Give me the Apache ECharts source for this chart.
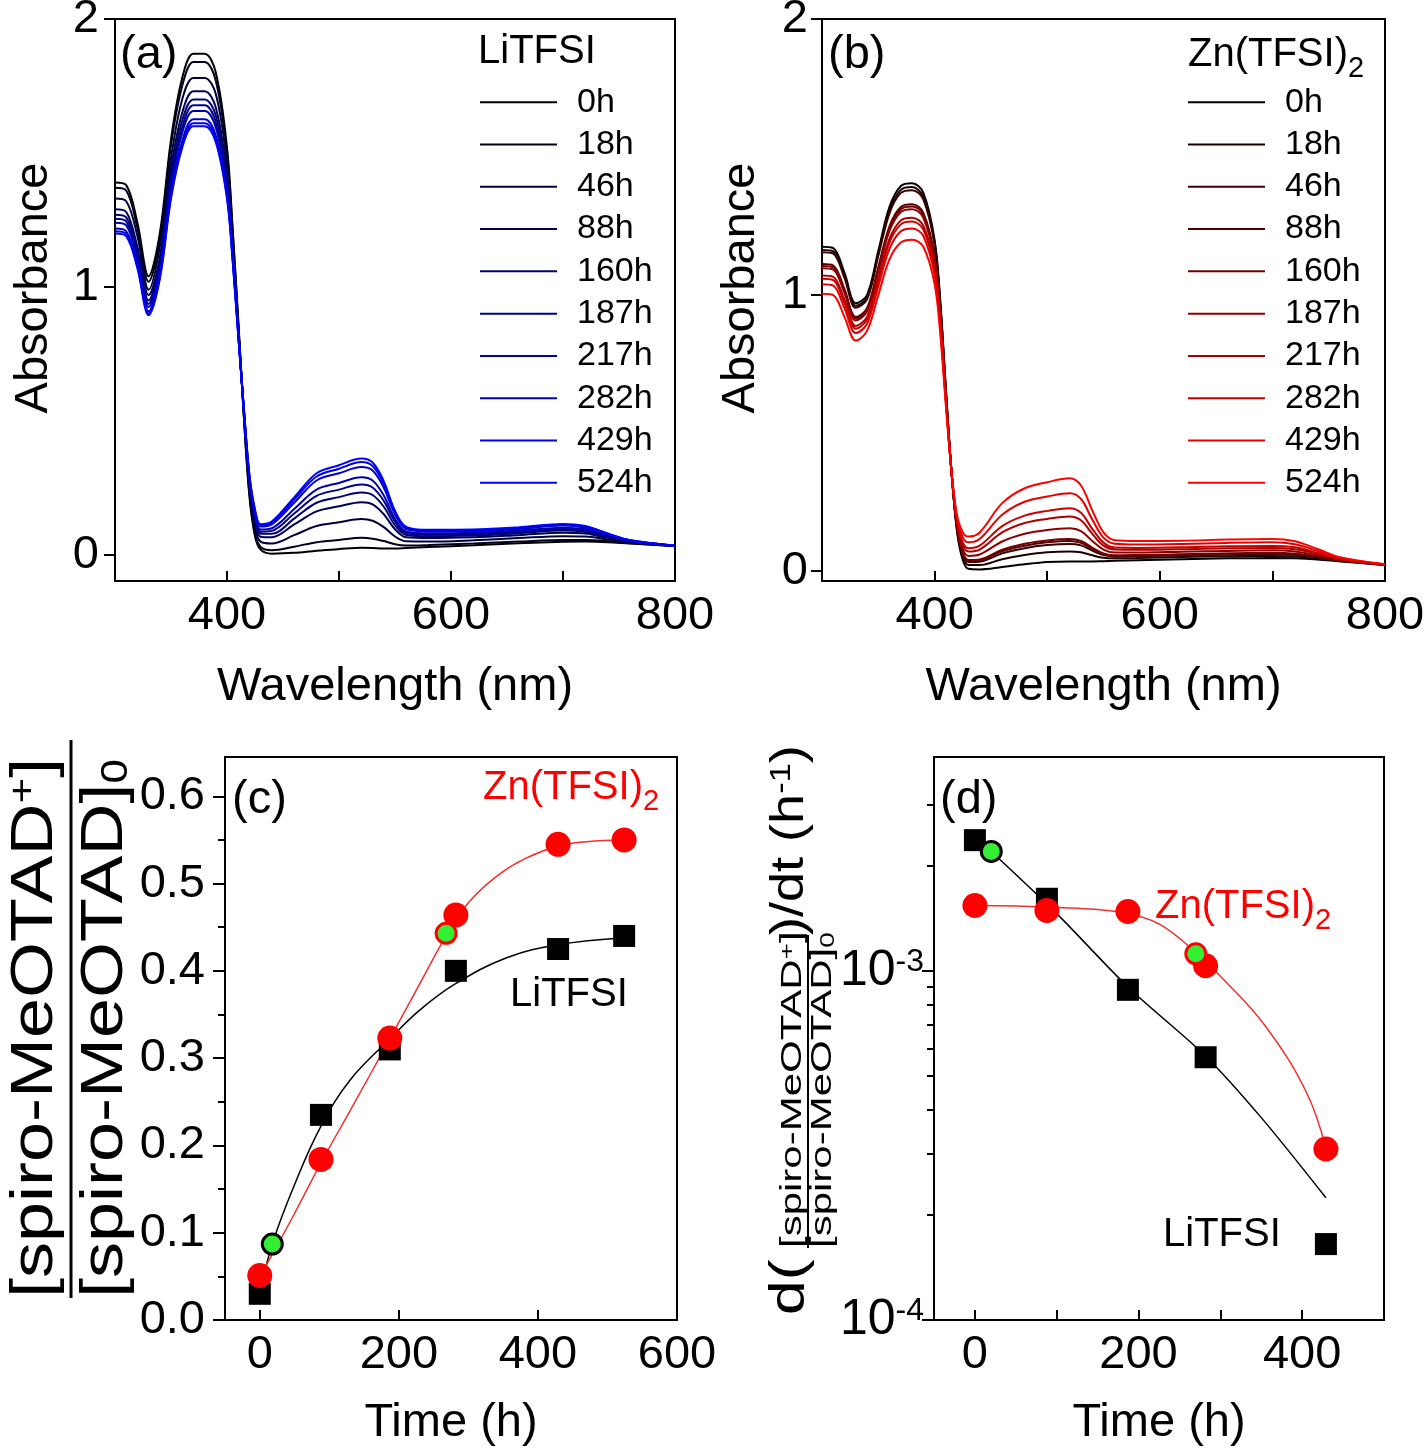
<!DOCTYPE html>
<html>
<head>
<meta charset="utf-8">
<script src="https://cdn.jsdelivr.net/npm/echarts@6/dist/echarts.min.js"></script>
<style>
html,body{margin:0;padding:0;background:#fff;}
#main{width:1425px;height:1449px;}
</style>
</head>
<body>
<div id="main"></div>
<script>
var FONT = '"Liberation Sans", Arial, sans-serif';

// 波长 (nm)
var wavelength = [300,310,320,330,340,350,360,370,380,390,400,405,410,415,420,425,430,440,460,480,500,520,530,540,550,560,580,620,660,700,720,740,760,800];
var timeLabels = ['0h','18h','46h','88h','160h','187h','217h','282h','429h','524h'];

// (a) LiTFSI 吸收谱
var li0h   = [1.39,1.38,1.24,1.04,1.20,1.55,1.78,1.87,1.87,1.80,1.52,1.22,0.88,0.52,0.22,0.07,0.02,0.005,0.008,0.016,0.022,0.027,0.026,0.024,0.024,0.026,0.030,0.036,0.044,0.049,0.050,0.048,0.043,0.034];
var li18h  = [1.37,1.36,1.22,1.02,1.18,1.53,1.75,1.84,1.84,1.77,1.50,1.21,0.87,0.52,0.23,0.08,0.03,0.018,0.031,0.048,0.056,0.064,0.061,0.052,0.040,0.035,0.037,0.043,0.050,0.056,0.056,0.052,0.044,0.034];
var li46h  = [1.33,1.32,1.19,0.99,1.15,1.48,1.70,1.78,1.78,1.72,1.46,1.18,0.86,0.53,0.25,0.10,0.05,0.043,0.074,0.108,0.122,0.134,0.128,0.104,0.069,0.051,0.050,0.055,0.063,0.070,0.069,0.058,0.047,0.034];
var li88h  = [1.29,1.28,1.15,0.97,1.11,1.44,1.65,1.73,1.73,1.67,1.42,1.16,0.85,0.535,0.26,0.12,0.068,0.066,0.114,0.163,0.182,0.197,0.189,0.152,0.096,0.066,0.063,0.066,0.074,0.083,0.080,0.064,0.049,0.034];
var li160h = [1.27,1.26,1.135,0.95,1.095,1.41,1.62,1.70,1.70,1.64,1.40,1.15,0.84,0.54,0.27,0.13,0.079,0.079,0.136,0.195,0.216,0.233,0.224,0.180,0.111,0.075,0.070,0.073,0.081,0.091,0.086,0.068,0.050,0.034];
var li187h = [1.255,1.245,1.12,0.937,1.08,1.394,1.595,1.678,1.678,1.615,1.385,1.135,0.837,0.541,0.277,0.141,0.087,0.090,0.155,0.221,0.244,0.263,0.252,0.202,0.124,0.082,0.075,0.078,0.086,0.097,0.091,0.071,0.052,0.034];
var li217h = [1.24,1.23,1.106,0.925,1.066,1.376,1.575,1.657,1.657,1.595,1.37,1.125,0.833,0.544,0.283,0.149,0.095,0.100,0.172,0.244,0.269,0.290,0.278,0.222,0.135,0.088,0.081,0.083,0.091,0.102,0.096,0.073,0.052,0.034];
var li282h = [1.218,1.208,1.086,0.909,1.046,1.351,1.545,1.626,1.626,1.565,1.348,1.111,0.826,0.547,0.292,0.160,0.106,0.114,0.195,0.278,0.305,0.328,0.315,0.251,0.152,0.097,0.088,0.089,0.097,0.110,0.102,0.077,0.054,0.035];
var li429h = [1.208,1.198,1.077,0.901,1.037,1.339,1.53,1.611,1.611,1.55,1.338,1.105,0.822,0.549,0.297,0.166,0.111,0.120,0.207,0.293,0.322,0.347,0.332,0.265,0.159,0.102,0.091,0.093,0.101,0.113,0.106,0.079,0.055,0.035];
var li524h = [1.20,1.19,1.07,0.895,1.03,1.33,1.52,1.60,1.60,1.54,1.33,1.10,0.82,0.55,0.30,0.17,0.115,0.125,0.215,0.305,0.335,0.36,0.345,0.275,0.165,0.105,0.094,0.095,0.103,0.116,0.108,0.080,0.055,0.035];

// (b) Zn(TFSI)2 吸收谱
var zn0h   = [1.175,1.17,1.08,0.97,1.0,1.16,1.32,1.395,1.405,1.37,1.20,0.98,0.66,0.36,0.14,0.04,0.008,0.006,0.015,0.025,0.033,0.035,0.035,0.035,0.036,0.037,0.039,0.043,0.046,0.047,0.046,0.042,0.035,0.022];
var zn18h  = [1.163,1.158,1.069,0.961,0.991,1.149,1.307,1.381,1.391,1.356,1.189,0.972,0.656,0.36,0.147,0.052,0.022,0.022,0.043,0.058,0.068,0.071,0.068,0.057,0.048,0.046,0.047,0.051,0.054,0.055,0.053,0.047,0.037,0.022];
var zn46h  = [1.155,1.15,1.061,0.954,0.984,1.141,1.297,1.37,1.38,1.347,1.181,0.966,0.653,0.36,0.153,0.061,0.033,0.034,0.064,0.083,0.094,0.098,0.093,0.074,0.058,0.053,0.054,0.057,0.060,0.061,0.059,0.050,0.038,0.023];
var zn88h  = [1.112,1.107,1.021,0.92,0.952,1.101,1.25,1.319,1.329,1.298,1.141,0.936,0.638,0.36,0.155,0.065,0.037,0.039,0.072,0.092,0.104,0.109,0.102,0.080,0.061,0.055,0.056,0.059,0.063,0.064,0.061,0.051,0.039,0.023];
var zn160h = [1.105,1.10,1.014,0.915,0.947,1.094,1.242,1.311,1.321,1.29,1.134,0.931,0.635,0.36,0.156,0.067,0.040,0.042,0.077,0.099,0.111,0.116,0.109,0.085,0.064,0.057,0.058,0.061,0.064,0.066,0.063,0.052,0.039,0.023];
var zn187h = [1.097,1.092,1.006,0.908,0.94,1.086,1.233,1.301,1.311,1.28,1.126,0.925,0.632,0.36,0.164,0.080,0.055,0.060,0.107,0.135,0.149,0.155,0.145,0.109,0.078,0.067,0.067,0.070,0.073,0.075,0.071,0.057,0.041,0.023];
var zn217h = [1.071,1.066,0.982,0.888,0.921,1.062,1.204,1.27,1.28,1.251,1.102,0.907,0.623,0.36,0.172,0.094,0.071,0.078,0.140,0.174,0.189,0.198,0.184,0.135,0.092,0.078,0.077,0.079,0.083,0.084,0.079,0.063,0.043,0.024];
var zn282h = [1.059,1.054,0.971,0.878,0.912,1.051,1.191,1.256,1.266,1.237,1.091,0.898,0.619,0.36,0.178,0.104,0.083,0.092,0.163,0.201,0.218,0.228,0.211,0.153,0.103,0.085,0.084,0.086,0.090,0.091,0.086,0.066,0.045,0.024];
var zn429h = [1.039,1.034,0.952,0.862,0.896,1.032,1.168,1.231,1.241,1.214,1.072,0.884,0.612,0.36,0.189,0.122,0.104,0.116,0.204,0.251,0.270,0.282,0.261,0.187,0.121,0.099,0.096,0.098,0.102,0.104,0.097,0.073,0.047,0.024];
var zn524h = [1.005,1.0,0.92,0.835,0.87,1.0,1.13,1.19,1.20,1.175,1.04,0.86,0.60,0.36,0.20,0.14,0.125,0.14,0.246,0.30,0.322,0.336,0.31,0.22,0.14,0.112,0.109,0.11,0.114,0.116,0.108,0.08,0.05,0.025];

var blueShades = ['#000000','#00001c','#000039','#000055','#000071','#00008e','#0000aa','#0000c6','#0000e3','#0000ff'];
var redShades  = ['#000000','#1c0000','#390000','#550000','#710000','#8e0000','#aa0000','#c60000','#e30000','#ff0000'];

// (c) 氧化比例
var timeC = [0, 88, 187, 282, 429, 524];
var ratioLi = [0.03, 0.235, 0.31, 0.40, 0.425, 0.44];
var ratioZn = [0.051, 0.184, 0.323, 0.464, 0.545, 0.55];
var refLiC = [18, 0.087];
var refZnC = [268, 0.443];
var fitTimeLiC = [0, 18, 50, 88, 130, 187, 230, 281, 355, 429, 524];
var fitLiC     = [0.03, 0.087, 0.155, 0.222, 0.275, 0.322, 0.355, 0.385, 0.415, 0.43, 0.438];
var fitTimeZnC = [0, 20, 50, 88, 130, 187, 230, 268, 300, 340, 380, 429, 470, 524];
var fitZnC     = [0.05, 0.078, 0.122, 0.18, 0.24, 0.322, 0.385, 0.44, 0.478, 0.508, 0.528, 0.543, 0.548, 0.55];

// (d) 速率 (h^-1)
var timeD = [0, 88, 187, 282, 429];
var rateLi = [2.37e-3, 1.61e-3, 8.83e-4, 5.66e-4, 1.65e-4];
var rateZn = [1.54e-3, 1.49e-3, 1.48e-3, 1.035e-3, 3.09e-4];
var refLiD = [20, 2.2e-3];
var refZnD = [270, 1.12e-3];
var fitTimeLiD = [20, 100, 187, 282, 350, 429];
var fitLiD     = [2.2e-3, 1.46e-3, 9.0e-4, 5.7e-4, 3.8e-4, 2.24e-4];
var fitTimeZnD = [0, 50, 100, 150, 187, 226, 268, 303, 354, 405, 429];
var fitZnD     = [1.54e-3, 1.535e-3, 1.52e-3, 1.5e-3, 1.46e-3, 1.36e-3, 1.14e-3, 9.5e-4, 7.0e-4, 4.5e-4, 3.1e-4];

var spectraLi = [li0h, li18h, li46h, li88h, li160h, li187h, li217h, li282h, li429h, li524h];
var spectraZn = [zn0h, zn18h, zn46h, zn88h, zn160h, zn187h, zn217h, zn282h, zn429h, zn524h];

function pairs(xs, ys){
	var out = [];
	for (var i = 0; i < xs.length; i++) out.push([xs[i], ys[i]]);
	return out;
}
function logPairs(xs, ys){
	var out = [];
	for (var i = 0; i < xs.length; i++) out.push([xs[i], Math.log10(ys[i])]);
	return out;
}

var series = [];
function addSpectra(prefix, list, colors, idx){
	for (var i = 0; i < list.length; i++) {
		series.push({
			name: prefix + timeLabels[i], type: 'line', xAxisIndex: idx, yAxisIndex: idx,
			data: pairs(wavelength, list[i]), symbol: 'none', smooth: 0.35,
			color: colors[i], lineStyle: {width: 2, color: colors[i]}, z: 2
		});
	}
}
addSpectra('a', spectraLi, blueShades, 0);
addSpectra('b', spectraZn, redShades, 1);

function dots(xi, yi, data, shape, size, color, border){
	var st = {color: color, opacity: 1};
	if (border) { st.borderColor = border; st.borderWidth = 3; }
	return {type:'scatter', xAxisIndex:xi, yAxisIndex:yi, data:data, symbol:shape, symbolSize:size, itemStyle:st, z: border ? 5 : 4};
}

// (c)
series.push({type:'line', xAxisIndex:2, yAxisIndex:2, data: pairs(fitTimeLiC, fitLiC), symbol:'none', smooth:0.4, lineStyle:{width:1.5, color:'#000'}, z:3});
series.push({type:'line', xAxisIndex:2, yAxisIndex:2, data: pairs(fitTimeZnC, fitZnC), symbol:'none', smooth:0.4, lineStyle:{width:1.5, color:'#f03030'}, z:3});
series.push(dots(2, 2, pairs(timeC, ratioLi), 'rect', 22, '#000'));
series.push(dots(2, 2, pairs(timeC, ratioZn), 'circle', 25, '#ff0000'));
series.push(dots(2, 2, [refLiC], 'circle', 20, '#33ee33', '#000'));
series.push(dots(2, 2, [refZnC], 'circle', 20, '#33ee33', '#ff0000'));

// (d)
series.push({type:'line', xAxisIndex:3, yAxisIndex:4, data: logPairs(fitTimeLiD, fitLiD), symbol:'none', smooth:0.3, lineStyle:{width:1.5, color:'#000'}, z:3});
series.push({type:'line', xAxisIndex:3, yAxisIndex:4, data: logPairs(fitTimeZnD, fitZnD), symbol:'none', smooth:0.4, lineStyle:{width:1.5, color:'#f03030'}, z:3});
series.push(dots(3, 4, logPairs(timeD, rateLi), 'rect', 22, '#000'));
series.push(dots(3, 4, logPairs(timeD, rateZn), 'circle', 25, '#ff0000'));
series.push(dots(3, 4, logPairs([refLiD[0]], [refLiD[1]]), 'circle', 20, '#33ee33', '#000'));
series.push(dots(3, 4, logPairs([refZnD[0]], [refZnD[1]]), 'circle', 20, '#33ee33', '#ff0000'));

var black = '#000';
function lineSt(){ return {show:true, onZero:false, lineStyle:{color:black, width:2}}; }
function tickSt(vals, len, inside){ return {show:true, inside:!!inside, length:len, customValues:vals, lineStyle:{color:black, width:2}}; }
function labelSt(vals, margin, fmt){
	var o = {show:true, customValues:vals, margin:margin, color:black, fontSize:47, fontFamily:FONT};
	if (fmt) o.formatter = fmt;
	return o;
}
var nameSt = {fontSize:47, fontFamily:FONT, color:black};
var nameStY = {fontSize:47, fontFamily:FONT, color:black, padding:[0,0,0,24]};

var gridBase = {show:true, borderColor:black, borderWidth:2, backgroundColor:'transparent', containLabel:false, outerBoundsMode:'none'};
function grid(l, t, w, h){
	var g = {}; for (var k in gridBase) g[k] = gridBase[k];
	g.left = l; g.top = t; g.width = w; g.height = h; return g;
}

var minorD = [2e-4,3e-4,4e-4,5e-4,6e-4,7e-4,8e-4,9e-4,2e-3,3e-3].map(function(v){return Math.log10(v);});

var legendBase = function(prefix, left){
	return {
		data: timeLabels.map(function(t){return prefix + t;}),
		left: left, top: 81, padding: 0, orient: 'vertical', icon: 'rect',
		itemWidth: 77, itemHeight: 2, itemGap: 0, selectedMode: false,
		formatter: function(n){ return n.slice(1); },
		textStyle: {fontSize: 34, lineHeight: 42.3, fontFamily: FONT, color: black, padding: [0,0,0,15]}
	};
};

function txt(x, y, text, size, color){
	return {type:'text', x:x, y:y, style:{text:text, fontSize:size, fontFamily:FONT, fill:color||black, verticalAlign:'middle', align:'left'}};
}
// Zn(TFSI)2, 下标 2
function znText(x, y, color, size){
	return {type:'text', x:x, y:y + 4, style:{
		text:'{n|Zn(TFSI)}{s|2}', verticalAlign:'middle', align:'left',
		rich:{
			n:{fontSize:size, lineHeight:size, verticalAlign:'top', fontFamily:FONT, fill:color},
			s:{fontSize:29, lineHeight:size + 8, verticalAlign:'bottom', fontFamily:FONT, fill:color}
		}
	}};
}

var fracRich = function(big, small, pad){
	return {
		m:{fontSize:big, lineHeight:big, fontFamily:FONT, fill:black},
		p:{fontSize:small, lineHeight:small, padding:[0,0,pad,0], verticalAlign:'top', fontFamily:FONT, fill:black},
		s:{fontSize:small, lineHeight:small, padding:[pad,0,0,0], verticalAlign:'bottom', fontFamily:FONT, fill:black}
	};
};

// (c) 纵轴标题: 分式
var ylabelC = {
	type:'group', x:0, y:1300, rotation:Math.PI/2,
	children:[
		{type:'text', x:2, y:36, scaleX:1.22, style:{text:'{m|[spiro-MeOTAD}{p|+}{m|]}', verticalAlign:'middle', align:'left', rich:fracRich(59, 36, 36)}},
		{type:'line', shape:{x1:2, y1:71, x2:560, y2:71}, style:{stroke:black, lineWidth:3}},
		{type:'text', x:2, y:106, scaleX:1.22, style:{text:'{m|[spiro-MeOTAD]}{s|0}', verticalAlign:'middle', align:'left', rich:fracRich(59, 36, 34)}}
	]
};
// (d) 纵轴标题
var ylabelD = {
	type:'group', x:0, y:1320, rotation:Math.PI/2,
	children:[
		{type:'text', x:5, y:790, scaleX:1.25, style:{text:'d(', fontSize:50, fontFamily:FONT, fill:black, verticalAlign:'middle', align:'left'}},
		{type:'text', x:72, y:793, scaleX:1.4, style:{text:'{m|[spiro-MeOTAD}{p|+}{m|]}', verticalAlign:'middle', align:'left', rich:fracRich(30, 20, 18)}},
		{type:'line', shape:{x1:72, y1:808, x2:385, y2:808}, style:{stroke:black, lineWidth:2}},
		{type:'text', x:72, y:823, scaleX:1.4, style:{text:'{m|[spiro-MeOTAD]}{s|0}', verticalAlign:'middle', align:'left', rich:fracRich(30, 20, 16)}},
		{type:'text', x:385, y:790, scaleX:1.15, style:{text:'{m|)/dt (h}{p|-1}{m|)}', verticalAlign:'middle', align:'left', rich:fracRich(47, 30, 28)}}
	]
};

var option = {
	animation: false,
	backgroundColor: '#fff',
	grid: [grid(115, 19, 560, 562), grid(822, 19, 563, 562), grid(225, 757, 452, 563), grid(934, 757, 450, 563)],
	legend: [legendBase('a', 480), legendBase('b', 1188)],
	xAxis: [
		{type:'value', gridIndex:0, min:300, max:800, axisLine:lineSt(), axisTick:tickSt([400,500,600,700], 10, true), axisLabel:labelSt([400,600,800], 12), splitLine:{show:false}, name:'Wavelength (nm)', nameLocation:'middle', nameGap:83, nameTextStyle:nameSt},
		{type:'value', gridIndex:1, min:300, max:800, axisLine:lineSt(), axisTick:tickSt([400,500,600,700], 10, true), axisLabel:labelSt([400,600,800], 12), splitLine:{show:false}, name:'Wavelength (nm)', nameLocation:'middle', nameGap:83, nameTextStyle:nameSt},
		{type:'value', gridIndex:2, min:-50, max:600, axisLine:lineSt(), axisTick:tickSt([0,200,400], 10, true), axisLabel:labelSt([0,200,400,600], 12), splitLine:{show:false}, name:'Time (h)', nameLocation:'middle', nameGap:80, nameTextStyle:nameSt},
		{type:'value', gridIndex:3, min:-50, max:500, axisLine:lineSt(), axisTick:tickSt([0,100,200,300,400], 10, true), axisLabel:labelSt([0,200,400], 12), splitLine:{show:false}, name:'Time (h)', nameLocation:'middle', nameGap:80, nameTextStyle:nameSt}
	],
	yAxis: [
		{type:'value', gridIndex:0, position:'left', min:-0.097, max:2, axisLine:lineSt(), axisTick:tickSt([0,1,2], 11), axisLabel:labelSt([0,1,2], 16), splitLine:{show:false}, name:'Absorbance', nameLocation:'middle', nameGap:57, nameTextStyle:nameStY},
		{type:'value', gridIndex:1, position:'left', min:-0.036, max:2, axisLine:lineSt(), axisTick:tickSt([0,1,2], 11), axisLabel:labelSt([0,1,2], 14), splitLine:{show:false}, name:'Absorbance', nameLocation:'middle', nameGap:57, nameTextStyle:nameStY},
		{type:'value', gridIndex:2, position:'left', min:0, max:0.645, axisLine:lineSt(), axisTick:tickSt([0,0.1,0.2,0.3,0.4,0.5,0.6], 12), axisLabel:labelSt([0,0.1,0.2,0.3,0.4,0.5,0.6], 20, function(v){return v.toFixed(1);}), splitLine:{show:false}},
		{type:'value', gridIndex:2, position:'left', min:0, max:0.645, axisLine:{show:false, onZero:false}, axisTick:tickSt([0.05,0.15,0.25,0.35,0.45,0.55], 7), axisLabel:{show:false}, splitLine:{show:false}},
		{type:'value', gridIndex:3, position:'left', min:-4, max:-2.387, axisLine:lineSt(), axisTick:tickSt([-4,-3], 12), axisLabel:{show:true, customValues:[-4,-3], margin:10, formatter:function(v){return '{b|10}{p|' + Math.round(v) + '}';}, rich:{b:{fontSize:50, lineHeight:50, fontFamily:FONT, color:black}, p:{fontSize:32, lineHeight:32, padding:[0,0,30,0], verticalAlign:'top', fontFamily:FONT, color:black}}}, splitLine:{show:false}},
		{type:'value', gridIndex:3, position:'left', min:-4, max:-2.387, axisLine:{show:false, onZero:false}, axisTick:tickSt(minorD, 7), axisLabel:{show:false}, splitLine:{show:false}}
	],
	graphic: {elements: [
		txt(120, 55, '(a)', 47),
		txt(828, 55, '(b)', 47),
		txt(232, 800, '(c)', 47),
		txt(940, 800, '(d)', 47),
		txt(478, 52, 'LiTFSI', 40),
		znText(1188, 55, black, 40),
		znText(483, 788, '#ff0000', 40),
		txt(510, 995, 'LiTFSI', 40),
		znText(1155, 907, '#ff0000', 40),
		txt(1163, 1235, 'LiTFSI', 40),
		ylabelC,
		ylabelD
	]},
	series: series
};

var myChart = echarts.init(document.getElementById('main'));
myChart.setOption(option);
</script>
</body>
</html>
